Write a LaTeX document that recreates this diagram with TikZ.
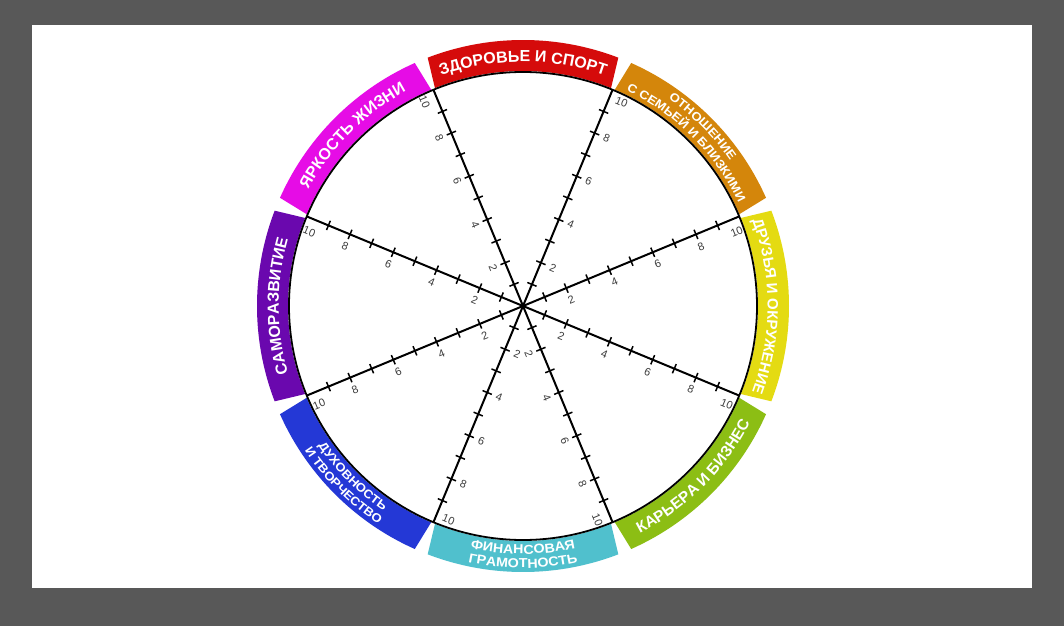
\documentclass[tikz,border=0pt]{standalone}
\usepackage{fontspec}
\setmainfont{Liberation Sans}
\setsansfont{Liberation Sans}
\newfontfamily\bandwide[FakeStretch=1.1]{Liberation Sans}
\usetikzlibrary{decorations.text}
\definecolor{bggray}{HTML}{585858}
\definecolor{cred}{HTML}{D50B0B}
\definecolor{corange}{HTML}{D4860B}
\definecolor{cyellow}{HTML}{E4DB12}
\definecolor{cgreen}{HTML}{8CBE14}
\definecolor{ccyan}{HTML}{50C0CD}
\definecolor{cblue}{HTML}{2438D6}
\definecolor{cpurple}{HTML}{6A08AE}
\definecolor{cmagenta}{HTML}{E60CE6}
\definecolor{numgray}{HTML}{3C3C3C}
\newcommand\bandfont[1]{\bfseries\fontsize{#1}{#1}\selectfont\color{white}}
\newcommand\bandfontw[1]{\bandwide\bfseries\fontsize{#1}{#1}\selectfont\color{white}}
% clockwise arc text (letter tops outward)
\newcommand\cwtext[4]{%
  \path[decorate,decoration={text along path,text align=center,text={|#3|#4}}]
    (#1+35:#2) arc[start angle=#1+35,end angle=#1-35,radius=#2];}
% counter-clockwise arc text (letter tops toward centre)
\newcommand\ccwtext[4]{%
  \path[decorate,decoration={text along path,text align=center,text={|#3|#4}}]
    (#1-35:#2) arc[start angle=#1-35,end angle=#1+35,radius=#2];}
\begin{document}
\begin{tikzpicture}[x=1pt,y=1pt,
  numlbl/.style={font=\fontsize{11}{11}\selectfont, text=numgray, inner sep=0pt},
  spoke/.style={line width=2pt, black},
  tickmark/.style={line width=1.5pt, black}]
\useasboundingbox (-523,-320) rectangle (541,306);
\fill[bggray] (-523,-320) rectangle (541,306);
\fill[white] (-491,-282) rectangle (509,281);
% coloured bands
\foreach \cc/\col in {90/cred,45/corange,0/cyellow,-45/cgreen,-90/ccyan,-135/cblue,180/cpurple,135/cmagenta}{
  \fill[\col] (\cc-22:235) arc[start angle=\cc-22,end angle=\cc+22,radius=235]
    -- (\cc+21:266) arc[start angle=\cc+21,end angle=\cc-21,radius=266] -- cycle;
}
% band texts
\cwtext{90}{244.3}{\bandfont{16}}{ЗДОРОВЬЕ И СПОРТ}
\cwtext{45}{253}{\bandfontw{12}}{ОТНОШЕНИЕ}
\cwtext{45}{239}{\bandfontw{12}}{С СЕМЬЕЙ И БЛИЗКИМИ}
\cwtext{0}{244.6}{\bandfont{15}}{ДРУЗЬЯ И ОКРУЖЕНИЕ}
\ccwtext{-45}{255.5}{\bandfont{15.5}}{КАРЬЕРА И БИЗНЕС}
\ccwtext{-90}{248}{\bandfontw{13}}{ФИНАНСОВАЯ}
\ccwtext{-90}{262}{\bandfontw{13}}{ГРАМОТНОСТЬ}
\ccwtext{-135}{247.8}{\bandfontw{12}}{ДУХОВНОСТЬ}
\ccwtext{-135}{261.8}{\bandfontw{12}}{И ТВОРЧЕСТВО}
\cwtext{180}{244.3}{\bandfont{16}}{САМОРАЗВИТИЕ}
\cwtext{135}{244.3}{\bandfont{16}}{ЯРКОСТЬ ЖИЗНИ}
% circle
\draw[line width=1.8pt] (0,0) circle[radius=234];
% spokes
\foreach \a in {22.5,67.5,112.5,157.5}
  \draw[spoke] (\a:234) -- (\a+180:234);
% ticks
\foreach \a in {22.5,67.5,112.5,157.5,202.5,247.5,292.5,337.5}
  \foreach \k in {1,...,9}
    \draw[tickmark] ([shift={(\a:\k*23.4)}]\a+90:5) -- ([shift={(\a:\k*23.4)}]\a-90:5);
% numbers
\foreach \a/\n/\r in {22.5/-67.5/22.5, 67.5/-22.5/-22.5, 112.5/202.5/-67.5, 157.5/247.5/-22.5,
                      202.5/292.5/22.5, 247.5/337.5/-22.5, 292.5/202.5/-67.5, 337.5/247.5/-22.5}{
  \foreach \k in {2,4,6,8,10}{
    \pgfmathsetmacro\dd{\k==10 ? 226 : \k*23.4}
    \node[numlbl, rotate=\r] at ([shift={(\a:\dd)}]\n:13) {\k};
  }
}
\end{tikzpicture}
\end{document}
